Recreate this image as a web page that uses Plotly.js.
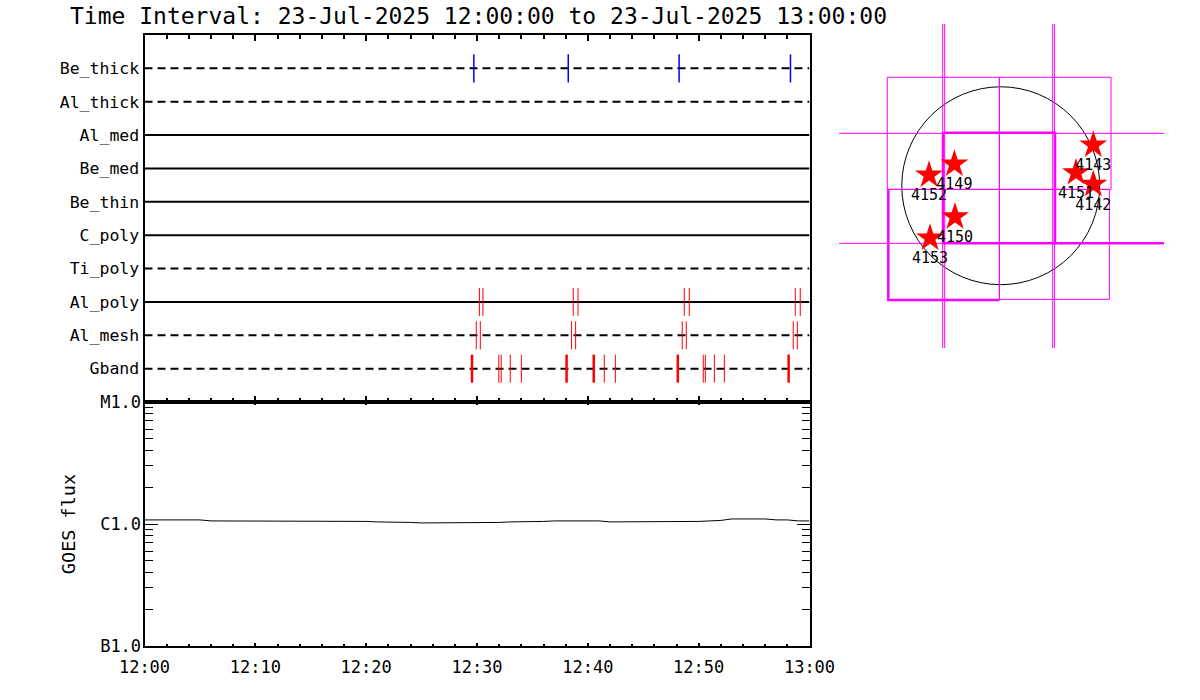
<!DOCTYPE html>
<html>
<head>
<meta charset="utf-8">
<script src="https://cdn.plot.ly/plotly-3.0.1.min.js"></script>
<style>html,body{margin:0;padding:0;background:#fff;}#chart{width:1200px;height:700px;}</style>
</head>
<body>
<div id="chart"></div>
<script>
// ---------------- data ----------------
const DAY = '2025-07-23 ';
const timeStart = '12:00:00';
const timeEnd = '13:00:00';

// filter rows, bottom to top
const rowNames = ['Gband','Al_mesh','Al_poly','Ti_poly','C_poly','Be_thin','Be_med','Al_med','Al_thick','Be_thick'];
const rowDashed = [true, true, false, true, false, false, false, false, true, true];

// observation times per filter
const beThickTimes = ['12:29:43','12:38:14','12:48:14','12:58:17'];
const alPolyTimes  = ['12:30:13','12:30:32','12:38:41','12:39:07','12:48:42','12:49:09','12:58:43','12:59:10'];
const alMeshTimes  = ['12:29:56','12:30:18','12:38:32','12:38:54','12:48:31','12:48:53','12:58:32','12:58:54'];
const gbandThickTimes = ['12:29:33','12:38:05','12:40:32','12:48:07','12:58:07'];
const gbandThinTimes  = ['12:31:58','12:32:11','12:33:00','12:34:00','12:41:29','12:42:29','12:50:25','12:50:36','12:51:25','12:52:19'];

// GOES 1-8 A flux, one value per minute 12:00..13:00, in units of 1e-6 W/m^2
const goesMinutes = Array.from({length: 61}, (_, i) => i);
const goesFlux = [1.08,1.08,1.07,1.07,1.08,1.08,1.06,1.06,1.05,1.05,
                  1.05,1.05,1.05,1.05,1.05,1.05,1.06,1.06,1.05,1.05,
                  1.05,1.04,1.04,1.03,1.03,1.02,1.02,1.02,1.02,1.02,
                  1.02,1.03,1.03,1.04,1.04,1.05,1.05,1.06,1.06,1.06,
                  1.06,1.06,1.04,1.04,1.04,1.04,1.04,1.04,1.05,1.05,
                  1.05,1.06,1.07,1.10,1.10,1.10,1.10,1.08,1.08,1.06,1.06];
const goesTickVals = [1e-7, 1e-6, 1e-5];
const goesTickText = ['B1.0', 'C1.0', 'M1.0'];

// map (arcsec): active regions
const arNames = ['4143','4149','4152','4151','4142','4150','4153'];
const arX = [889, -445, -688, 723, 889, -439, -679];
const arY = [391, 208, 103, 125, 13, -298, -502];
const sunRadius = 950;
// pointing grid lines (arcsec)
const gridVertX = [-557, -538, 499, 515];
const gridVertSpan = [-1558, 1552];
const gridHorY = [503, -553];
const gridHorSpan = [-1552, 1568];
// thin FOV tiles [x0, x1, y0, y1]
const fovTiles = [[-1089, -13, -35, 1041], [-13, 1059, -35, 1041], [-1079, -13, -1097, -35], [-13, 1043, -1091, -35]];
// thick FOV outline polylines
const fovThickA_X = [-554, 521, 521, -554, -554];
const fovThickA_Y = [509, 509, -553, -553, 509];
const fovThickExt_X = [521, 1568];
const fovThickExt_Y = [-553, -553];
const fovThickB_X = [-1079, -1079, -13];
const fovThickB_Y = [-35, -1097, -1097];

// ---------------- build ----------------
const FONT = 'DejaVu Sans Mono';
const W = 1200, H = 700;
const px = v => v / W;
const py = v => 1 - v / H;
const T = s => DAY + s;
const goesTimes = goesMinutes.map(m => m === 60 ? DAY + '13:00:00' : DAY + '12:' + String(m).padStart(2, '0') + ':00');

const traces = [];
// row lines
rowNames.forEach((name, i) => {
  traces.push({
    type: 'scatter', mode: 'lines', xaxis: 'x', yaxis: 'y',
    x: [T(timeStart), T(timeEnd)], y: [i + 1, i + 1],
    line: {color: '#000', width: 2, dash: rowDashed[i] ? '8px,5px' : 'solid'},
    hoverinfo: 'skip', showlegend: false
  });
});
function tickTrace(times, row, color, width) {
  const x = [], y = [];
  times.forEach(t => { x.push(T(t), T(t), null); y.push(row - 0.42, row + 0.42, null); });
  return {type: 'scatter', mode: 'lines', xaxis: 'x', yaxis: 'y', x, y,
          line: {color, width}, hoverinfo: 'skip', showlegend: false};
}
const rowIdx = n => rowNames.indexOf(n) + 1;
traces.push(tickTrace(beThickTimes, rowIdx('Be_thick'), '#0000ff', 1.5));
traces.push(tickTrace(alPolyTimes, rowIdx('Al_poly'), '#ff0000', 1));
traces.push(tickTrace(alMeshTimes, rowIdx('Al_mesh'), '#ff0000', 1));
traces.push(tickTrace(gbandThickTimes, rowIdx('Gband'), '#ff0000', 2.5));
traces.push(tickTrace(gbandThinTimes, rowIdx('Gband'), '#ff0000', 1));

// GOES
traces.push({type: 'scatter', mode: 'lines', xaxis: 'x2', yaxis: 'y2',
  x: goesTimes, y: goesFlux.map(v => v * 1e-6),
  line: {color: '#000', width: 1}, hoverinfo: 'skip', showlegend: false});

// map lines
const MAG = '#ff00ff';
function seg(x, y, w) {
  return {type: 'scatter', mode: 'lines', xaxis: 'x3', yaxis: 'y3', x, y,
          line: {color: MAG, width: w}, hoverinfo: 'skip', showlegend: false};
}
{
  const x = [], y = [];
  gridVertX.forEach(v => { x.push(v, v, null); y.push(gridVertSpan[0], gridVertSpan[1], null); });
  gridHorY.forEach(v => { x.push(gridHorSpan[0], gridHorSpan[1], null); y.push(v, v, null); });
  fovTiles.forEach(b => { x.push(b[0], b[1], b[1], b[0], b[0], null); y.push(b[2], b[2], b[3], b[3], b[2], null); });
  traces.push(seg(x, y, 1));
}
traces.push(seg(fovThickA_X, fovThickA_Y, 2.5));
traces.push(seg(fovThickExt_X, fovThickExt_Y, 2.5));
traces.push(seg(fovThickB_X, fovThickB_Y, 2.5));
traces.push({type: 'scatter', mode: 'markers+text', xaxis: 'x3', yaxis: 'y3',
  x: arX, y: arY, text: arNames, textposition: 'bottom center',
  textfont: {family: FONT, size: 15, color: '#000'},
  marker: {symbol: 'star', size: 21, color: '#ff0000', line: {width: 0}},
  hoverinfo: 'skip', showlegend: false, cliponaxis: false});

const xDom = [px(144.5), px(809.5)];
const range = [T(timeStart), T(timeEnd)];
const layout = {
  width: W, height: H, autosize: false,
  margin: {l: 0, r: 0, t: 0, b: 0, pad: 0},
  paper_bgcolor: '#fff', plot_bgcolor: '#fff',
  showlegend: false,
  font: {family: FONT, color: '#000'},
  title: {text: 'Time Interval: 23-Jul-2025 12:00:00 to 23-Jul-2025 13:00:00',
          x: px(70), xanchor: 'left', xref: 'paper', y: py(16), yanchor: 'middle', yref: 'paper',
          font: {family: FONT, size: 23, color: '#000'}},
  xaxis: {domain: xDom, anchor: 'y', type: 'date', range, showticklabels: false,
          showgrid: false, zeroline: false, showline: true, linecolor: '#000', linewidth: 2, mirror: 'ticks',
          ticks: 'inside', ticklen: 6, tickwidth: 2, tickcolor: '#000', dtick: 600000, tick0: T(timeStart),
          minor: {ticks: 'inside', ticklen: 4, tickwidth: 2, tickcolor: '#000', dtick: 120000, tick0: T(timeStart), showgrid: false}},
  yaxis: {domain: [py(402), py(35)], anchor: 'x', range: [0, 11], showgrid: false, zeroline: false,
          showline: true, linecolor: '#000', linewidth: 2, mirror: true, ticks: '',
          tickmode: 'array', tickvals: rowNames.map((_, i) => i + 1), ticktext: rowNames,
          tickfont: {family: FONT, size: 16.5, color: '#000'}, ticklabelstandoff: 0},
  xaxis2: {domain: xDom, anchor: 'y2', type: 'date', range, tickformat: '%H:%M',
          showgrid: false, zeroline: false, showline: true, linecolor: '#000', linewidth: 2, mirror: 'ticks',
          ticks: 'inside', ticklen: 3, tickwidth: 2, tickcolor: '#000', dtick: 600000, tick0: T(timeStart),
          tickfont: {family: FONT, size: 17, color: '#000'}, ticklabelstandoff: 5,
          minor: {ticks: 'inside', ticklen: 2, tickwidth: 2, tickcolor: '#000', dtick: 120000, tick0: T(timeStart), showgrid: false}},
  yaxis2: {domain: [py(646), py(402)], anchor: 'x2', type: 'log', range: [-7, -5],
          showgrid: false, zeroline: false, showline: true, linecolor: '#000', linewidth: 2, mirror: 'ticks',
          ticks: 'inside', ticklen: 13, tickwidth: 1, tickcolor: '#000',
          tickmode: 'array', tickvals: goesTickVals, ticktext: goesTickText,
          tickfont: {family: FONT, size: 17, color: '#000'}, ticklabelstandoff: -2,
          minor: {ticks: 'inside', ticklen: 8, tickwidth: 1, tickcolor: '#000', tickmode: 'array',
                  tickvals: [2e-7,3e-7,4e-7,5e-7,6e-7,7e-7,8e-7,9e-7,2e-6,3e-6,4e-6,5e-6,6e-6,7e-6,8e-6,9e-6], showgrid: false},
          title: {text: 'GOES flux', font: {family: FONT, size: 18.5, color: '#000'}, standoff: 20}},
  xaxis3: {domain: [px(830), px(1175)], anchor: 'y3', range: [-1639, 1673], visible: false, fixedrange: true},
  yaxis3: {domain: [py(355), py(20)], anchor: 'x3', range: [-1625, 1591], visible: false, fixedrange: true},
  shapes: [{type: 'circle', xref: 'x3', yref: 'y3', x0: -sunRadius, x1: sunRadius, y0: -sunRadius, y1: sunRadius,
            line: {color: '#000', width: 1}, layer: 'below'}]
};
Plotly.newPlot('chart', traces, layout, {displayModeBar: false, staticPlot: true});
</script>
</body>
</html>
